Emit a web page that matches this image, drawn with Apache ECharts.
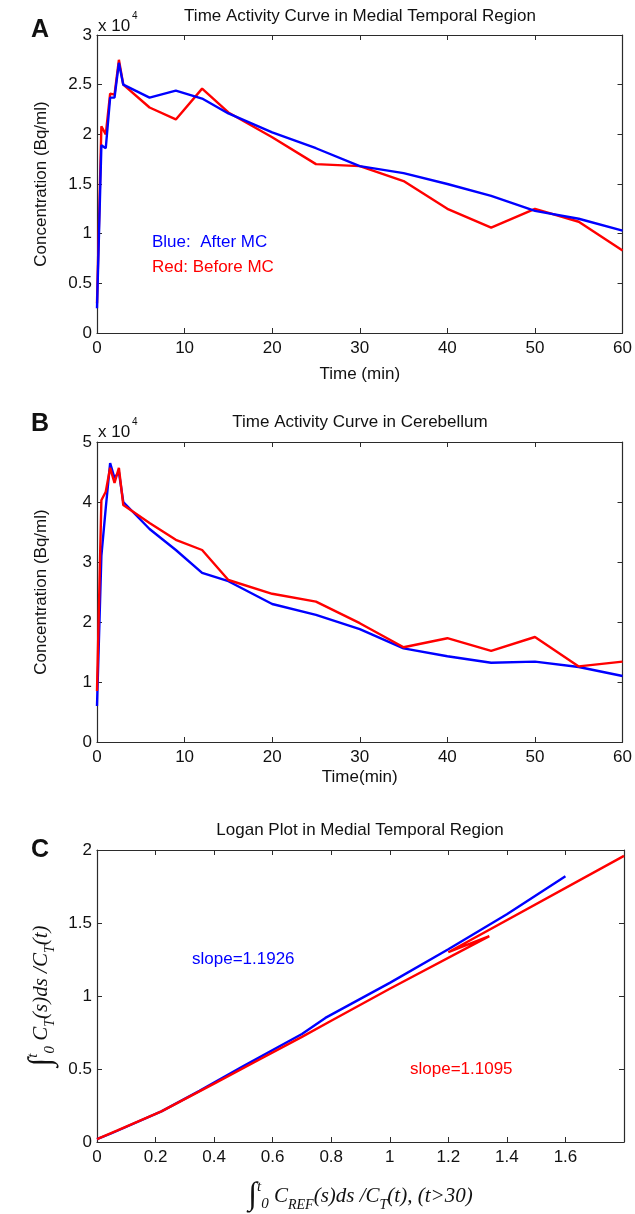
<!DOCTYPE html>
<html>
<head>
<meta charset="utf-8">
<script src="https://cdn.jsdelivr.net/npm/echarts@6/dist/echarts.min.js"></script>
<style>
html,body{margin:0;padding:0;background:#fff;}
#c{width:635px;height:1214px;}
</style>
</head>
<body>
<div id="c"></div>
<script>
// ---------- data ----------
const timeA = [0, 0.5, 1, 1.5, 2, 2.5, 3, 6, 9, 12, 15, 20, 25, 30, 35, 40, 45, 50, 55, 60];
const blueA = [0.25, 1.89, 1.86, 2.37, 2.37, 2.72, 2.50, 2.37, 2.44, 2.36, 2.21, 2.02, 1.86, 1.68, 1.61, 1.50, 1.38, 1.23, 1.15, 1.03];
const redA  = [0.30, 2.08, 2.00, 2.41, 2.40, 2.75, 2.50, 2.27, 2.15, 2.46, 2.22, 1.97, 1.70, 1.68, 1.53, 1.25, 1.06, 1.25, 1.12, 0.83];

const timeB = [0, 0.5, 1, 1.5, 2, 2.5, 3, 6, 9, 12, 15, 20, 25, 30, 35, 40, 45, 50, 55, 60];
const blueB = [0.60, 3.10, 3.90, 4.65, 4.40, 4.50, 4.00, 3.55, 3.20, 2.82, 2.68, 2.30, 2.12, 1.88, 1.56, 1.43, 1.32, 1.34, 1.25, 1.10];
const redB  = [0.85, 4.03, 4.17, 4.57, 4.32, 4.57, 3.95, 3.65, 3.37, 3.20, 2.70, 2.47, 2.34, 1.98, 1.58, 1.73, 1.52, 1.75, 1.26, 1.34];

const loganXBlue = [0, 0.05, 0.22, 0.35, 0.50, 0.70, 0.78, 1.00, 1.20, 1.40, 1.60];
const loganYBlue = [0.02, 0.06, 0.21, 0.35, 0.52, 0.74, 0.85, 1.09, 1.32, 1.56, 1.82];
const loganXRed  = [0, 0.07, 0.22, 0.40, 0.55, 0.70, 0.80, 1.00, 1.34, 1.20, 1.80];
const loganYRed  = [0.02, 0.08, 0.21, 0.40, 0.56, 0.72, 0.83, 1.05, 1.41, 1.30, 1.96];

const timeTicksMax = 60, timeTickStep = 10;

// ---------- helpers ----------
const BLUE = '#0000ff', RED = '#ff0000';
const AX = '#2b2b2b';
const FONT = '"Liberation Sans", Arial, Helvetica, sans-serif';
const SERIF = '"Liberation Serif", "DejaVu Serif", serif';
const zip = (xs, ys) => xs.map((x, i) => [x, ys[i]]);

const grids = [
  {left: 97, top: 35, width: 527, height: 298},
  {left: 97, top: 442, width: 527, height: 300},
  {left: 97, top: 850, width: 527, height: 292}
];

const xAxes = [], yAxes = [];
function addAxes(g, xr, yr, xName, yName, xNameGap, yNameGap, xFmt, nameStyleX, nameStyleY) {
  const common = {
    gridIndex: g, type: 'value',
    axisLine: {show: true, onZero: false, lineStyle: {color: AX, width: 1.2}},
    axisTick: {show: true, inside: true, length: 5, lineStyle: {color: AX, width: 1}},
    splitLine: {show: false}
  };
  xAxes.push(Object.assign({}, common, {
    position: 'bottom', min: xr[0], max: xr[1], interval: xr[2],
    axisLabel: {show: true, color: '#111', fontSize: 17, fontFamily: FONT, margin: 7, formatter: xFmt},
    name: xName, nameLocation: 'middle', nameGap: xNameGap,
    nameTextStyle: nameStyleX
  }));
  xAxes.push(Object.assign({}, common, {
    position: 'top', min: xr[0], max: xr[1], interval: xr[2],
    axisLabel: {show: false}
  }));
  yAxes.push(Object.assign({}, common, {
    position: 'left', min: yr[0], max: yr[1], interval: yr[2],
    axisLabel: {show: true, color: '#111', fontSize: 17, fontFamily: FONT, margin: 5},
    name: yName, nameLocation: 'middle', nameGap: yNameGap, nameRotate: 90,
    nameTextStyle: nameStyleY
  }));
  yAxes.push(Object.assign({}, common, {
    position: 'right', min: yr[0], max: yr[1], interval: yr[2],
    axisLabel: {show: false}
  }));
}

const plainName = {color: '#111', fontSize: 17, fontFamily: FONT};
addAxes(0, [0, timeTicksMax, timeTickStep], [0, 3, 0.5], 'Time (min)', 'Concentration (Bq/ml)', 33, 47, null, plainName, plainName);
addAxes(1, [0, timeTicksMax, timeTickStep], [0, 5, 1], 'Time(min)', 'Concentration (Bq/ml)', 27, 47, null, plainName, plainName);

const mathRich = {
  int: {fontSize: 32, fontFamily: SERIF, fontStyle: 'italic', color: '#111'},
  hi: {fontSize: 15, fontFamily: SERIF, fontStyle: 'italic', color: '#111', verticalAlign: 'top'},
  lo: {fontSize: 15, fontFamily: SERIF, color: '#111', verticalAlign: 'bottom'},
  m: {fontSize: 21, fontFamily: SERIF, fontStyle: 'italic', color: '#111'},
  sb: {fontSize: 14, fontFamily: SERIF, fontStyle: 'italic', color: '#111', verticalAlign: 'bottom'}
};
const mathStyle = {color: '#111', fontSize: 21, fontFamily: SERIF, fontStyle: 'italic', rich: mathRich};
addAxes(2, [0, 1.8, 0.2], [0, 2, 0.5],
  '{int|∫}{hi|t}{lo|0} {m|C}{sb|REF}{m|(s)ds /C}{sb|T}{m|(t), (t>30)}',
  '{int|∫}{hi|t}{lo|0} {m|C}{sb|T}{m|(s)ds /C}{sb|T}{m|(t)}',
  38, 38,
  v => (v > 1.7 ? '' : String(+v.toFixed(1))),
  mathStyle, mathStyle);

function line(name, data, color, g) {
  return {
    name, type: 'line', data, xAxisIndex: g * 2, yAxisIndex: g * 2,
    showSymbol: false, symbol: 'none', smooth: false, animation: false,
    lineStyle: {color, width: 2.4}, itemStyle: {color}
  };
}

const series = [
  line('Before MC A', zip(timeA, redA), RED, 0),
  line('After MC A', zip(timeA, blueA), BLUE, 0),
  line('After MC B', zip(timeB, blueB), BLUE, 1),
  line('Before MC B', zip(timeB, redB), RED, 1),
  line('After MC C', zip(loganXBlue, loganYBlue), BLUE, 2),
  line('Before MC C', zip(loganXRed, loganYRed), RED, 2)
];

function txt(text, x, y, opts) {
  return {
    type: 'text', x, y, silent: true,
    style: Object.assign({
      text, fill: '#111', font: '17px ' + FONT,
      align: 'center', verticalAlign: 'middle',
      textAlign: 'center', textVerticalAlign: 'middle'
    }, opts || {})
  };
}
const left = {align: 'left', textAlign: 'left'};

const graphic = [
  txt('A', 40, 30, {font: 'bold 25px ' + FONT}),
  txt('B', 40, 424, {font: 'bold 25px ' + FONT}),
  txt('C', 40, 850, {font: 'bold 25px ' + FONT}),
  txt('Time Activity Curve in Medial Temporal Region', 360, 16),
  txt('Time Activity Curve in Cerebellum', 360, 422),
  txt('Logan Plot in Medial Temporal Region', 360, 830),
  txt('x 10', 98, 26, left),
  txt('4', 132, 16, Object.assign({font: '10px ' + FONT}, left)),
  txt('x 10', 98, 432, left),
  txt('4', 132, 422, Object.assign({font: '10px ' + FONT}, left)),
  txt('Blue:  After MC', 152, 242, Object.assign({fill: BLUE}, left)),
  txt('Red: Before MC', 152, 267, Object.assign({fill: RED}, left)),
  txt('slope=1.1926', 192, 959, Object.assign({fill: BLUE}, left)),
  txt('slope=1.1095', 410, 1069, Object.assign({fill: RED}, left))
];

const chart = echarts.init(document.getElementById('c'), null, {renderer: 'canvas'});
chart.setOption({
  animation: false,
  backgroundColor: '#fff',
  grid: grids,
  xAxis: xAxes,
  yAxis: yAxes,
  series,
  graphic
});
</script>
</body>
</html>
